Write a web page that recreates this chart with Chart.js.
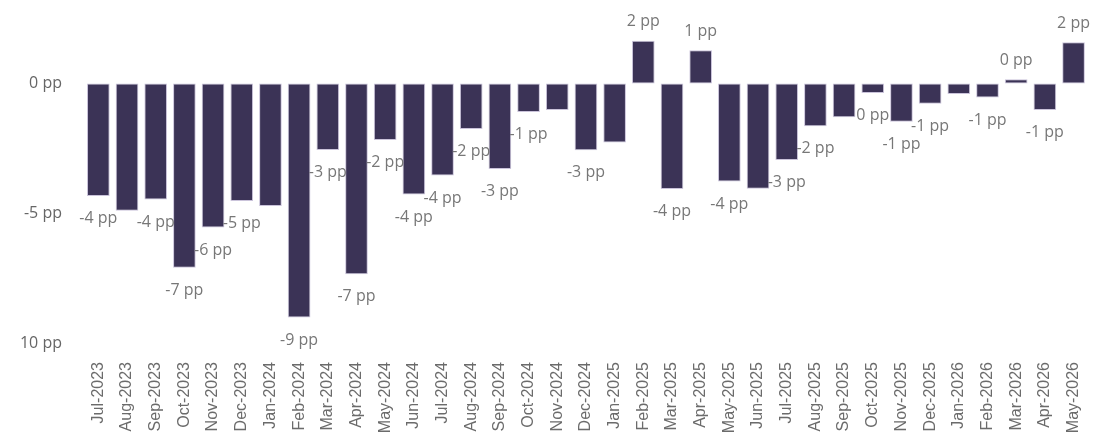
<!DOCTYPE html>
<html>
<head>
<meta charset="utf-8">
<title>pp chart</title>
<script src="https://cdn.jsdelivr.net/npm/chart.js@4/dist/chart.umd.min.js"></script>
<style>
    html, body { margin: 0; padding: 0; background: #ffffff; }
    #wrap { width: 1112px; height: 439px; }
</style>
</head>
<body>
<div id="wrap"><canvas id="deltaChart" width="1112" height="439"></canvas></div>
<script>
// 月份
const months = ['Jul-2023', 'Aug-2023', 'Sep-2023', 'Oct-2023', 'Nov-2023', 'Dec-2023',
    'Jan-2024', 'Feb-2024', 'Mar-2024', 'Apr-2024', 'May-2024', 'Jun-2024',
    'Jul-2024', 'Aug-2024', 'Sep-2024', 'Oct-2024', 'Nov-2024', 'Dec-2024',
    'Jan-2025', 'Feb-2025', 'Mar-2025', 'Apr-2025', 'May-2025', 'Jun-2025',
    'Jul-2025', 'Aug-2025', 'Sep-2025', 'Oct-2025', 'Nov-2025', 'Dec-2025',
    'Jan-2026', 'Feb-2026', 'Mar-2026', 'Apr-2026', 'May-2026'];

// 差值 (pp)
const deltas = [-4.34, -4.90, -4.47, -7.10, -5.55, -4.53,
    -4.72, -9.02, -2.56, -7.35, -2.18, -4.28,
    -3.55, -1.75, -3.29, -1.10, -1.02, -2.57,
    -2.27, 1.65, -4.07, 1.28, -3.78, -4.06,
    -2.95, -1.65, -1.30, -0.37, -1.47, -0.78,
    -0.40, -0.54, 0.16, -1.02, 1.59];

// 数据标签 (null = 不显示)
const barLabels = ['-4 pp', null, '-4 pp', '-7 pp', '-6 pp', '-5 pp',
    null, '-9 pp', '-3 pp', '-7 pp', '-2 pp', '-4 pp',
    '-4 pp', '-2 pp', '-3 pp', '-1 pp', null, '-3 pp',
    null, '2 pp', '-4 pp', '1 pp', '-4 pp', null,
    '-3 pp', '-2 pp', null, '0 pp', '-1 pp', '-1 pp',
    null, '-1 pp', '0 pp', '-1 pp', '2 pp'];

// Y轴刻度
const yTickValues = [-10, -5, 0];
const yTickLabels = ['10 pp', '-5 pp', '0 pp'];

document.addEventListener('DOMContentLoaded', function() {
    initChart();
});

// 柱子上的标签
const barLabelPlugin = {
    id: 'barLabels',
    afterDatasetsDraw(chart) {
        const ctx = chart.ctx;
        const meta = chart.getDatasetMeta(0);
        ctx.save();
        ctx.font = '16px "Segoe UI", "Open Sans", sans-serif';
        ctx.fillStyle = '#777777';
        ctx.textAlign = 'center';
        ctx.textBaseline = 'middle';
        meta.data.forEach((bar, i) => {
            const text = barLabels[i];
            if (!text) return;
            const y = deltas[i] < 0 ? bar.y + 22.5 : bar.y - 19;
            ctx.fillText(text, bar.x, y);
        });
        ctx.restore();
    }
};

function initChart() {
    const canvas = document.getElementById('deltaChart');
    if (!canvas) return;

    new Chart(canvas, {
        type: 'bar',
        data: {
            labels: months,
            datasets: [{
                data: deltas,
                backgroundColor: '#3b3356',
                borderColor: 'rgba(196, 188, 214, 0.9)',
                borderWidth: 1,
                borderSkipped: false,
                categoryPercentage: 0.79,
                barPercentage: 1.0
            }]
        },
        options: {
            responsive: false,
            animation: false,
            devicePixelRatio: 1,
            layout: {
                padding: { top: 2, right: 18, bottom: 0, left: 0 }
            },
            plugins: {
                legend: { display: false },
                tooltip: { enabled: false }
            },
            scales: {
                x: {
                    grid: { display: false, drawTicks: false },
                    border: { display: false },
                    ticks: {
                        autoSkip: false,
                        minRotation: 90,
                        maxRotation: 90,
                        padding: 19,
                        color: '#6b6b6b',
                        font: { family: '"Liberation Sans", Arial, sans-serif', size: 16 }
                    },
                    afterFit(scale) {
                        scale.height = 96;
                    }
                },
                y: {
                    min: -10,
                    max: 2,
                    grid: { display: false, drawTicks: false },
                    border: { display: false },
                    afterBuildTicks(scale) {
                        scale.ticks = yTickValues.map(v => ({ value: v }));
                    },
                    ticks: {
                        padding: 22,
                        color: '#666666',
                        font: { family: '"Segoe UI", "Open Sans", sans-serif', size: 16 },
                        callback: function(value) {
                            const idx = yTickValues.indexOf(value);
                            return idx >= 0 ? yTickLabels[idx] : '';
                        }
                    },
                    afterFit(scale) {
                        scale.width = 84;
                    }
                }
            }
        },
        plugins: [barLabelPlugin]
    });
}
</script>
</body>
</html>
